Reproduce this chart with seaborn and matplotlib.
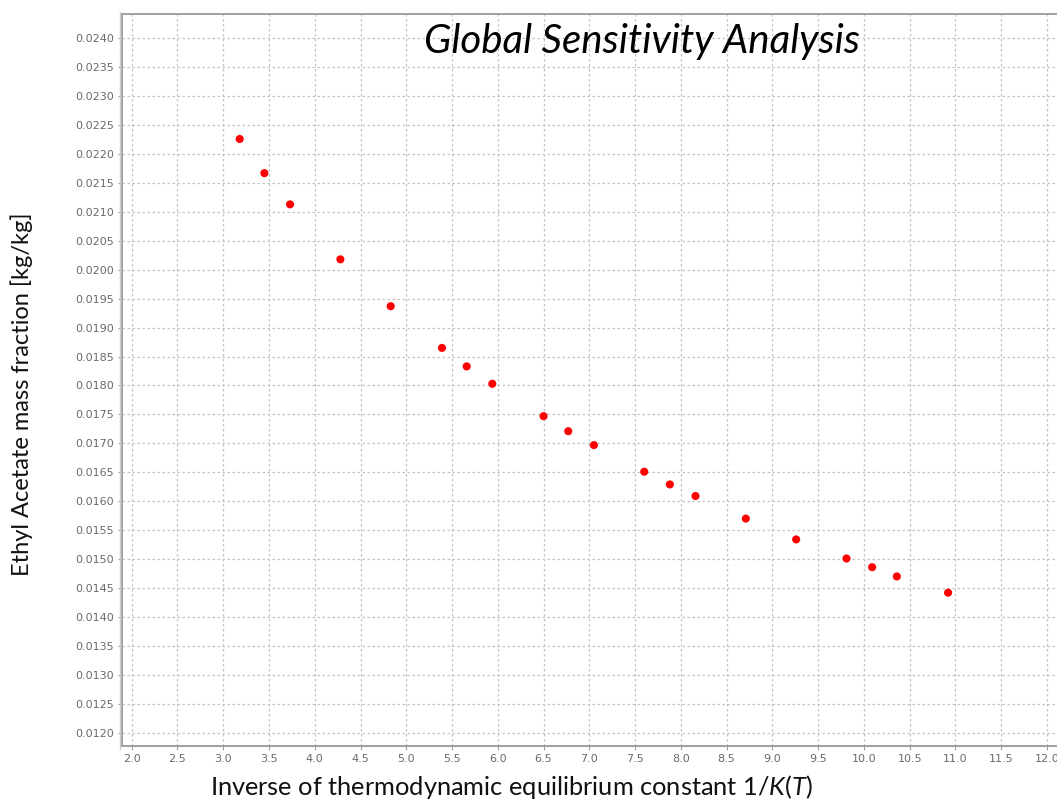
import numpy as np
import pandas as pd
import matplotlib
matplotlib.use("Agg")
import matplotlib.pyplot as plt
from matplotlib.ticker import MultipleLocator, FormatStrFormatter
import seaborn as sns

# Inverse equilibrium constant 1/K(T) and resulting ethyl acetate mass fraction
inv_k = [3.18, 3.45, 3.73, 4.28, 4.83, 5.39, 5.66, 5.94, 6.50, 6.77,
         7.05, 7.60, 7.88, 8.16, 8.71, 9.26, 9.81, 10.09, 10.36, 10.92]
mass_fraction = [0.02226, 0.02167, 0.02113, 0.02018, 0.01937, 0.01865,
                 0.01833, 0.01803, 0.01747, 0.01721, 0.01697, 0.01651,
                 0.01629, 0.01609, 0.01570, 0.01534, 0.01501, 0.01486,
                 0.01470, 0.01442]

df = pd.DataFrame({"inv_k": inv_k, "w_etac": mass_fraction})

sns.set_theme(style="white")
plt.rcParams["font.family"] = ["DejaVu Sans"]
plt.rcParams["mathtext.fontset"] = "custom"
plt.rcParams["mathtext.rm"] = "Lato"
plt.rcParams["mathtext.it"] = "Lato:italic"

fig = plt.figure(figsize=(10.57, 8.07), dpi=100)
ax = fig.add_axes([122 / 1057, 1 - 746 / 807, 1 - 122 / 1057, (746 - 14) / 807])

sns.scatterplot(data=df, x="inv_k", y="w_etac", ax=ax, color="#ff0000",
                s=34, edgecolor="none", zorder=3, legend=False)

ax.set_xlim(1.894, 12.11)
ax.set_ylim(0.01177, 0.02442)
ax.xaxis.set_major_locator(MultipleLocator(0.5))
ax.yaxis.set_major_locator(MultipleLocator(0.0005))
ax.xaxis.set_major_formatter(FormatStrFormatter("%.1f"))
ax.yaxis.set_major_formatter(FormatStrFormatter("%.4f"))

ax.grid(True, color="#c4c4c4", linestyle=(0, (2, 2)), linewidth=0.9)
ax.set_axisbelow(True)

for side in ["left", "bottom", "top"]:
    ax.spines[side].set_color("#a0a0a0")
    ax.spines[side].set_linewidth(1.4)
ax.spines["right"].set_visible(False)

ax.tick_params(axis="both", which="major", direction="out", length=3,
               width=0.8, color="#a0a0a0", labelsize=8, labelcolor="#6a6a6a",
               pad=3, left=True, bottom=True)

# outer frame line just left of the axis
fig.add_artist(plt.Line2D([119.5 / 1057, 119.5 / 1057], [1 - 749 / 807, 1 - 12 / 807],
                          color="#cfcfcf", linewidth=1.0))

ax.set_xlabel("")
ax.set_ylabel("")

label_font = ["Lato", "DejaVu Sans"]
fig.text(22 / 1057, 1 - 394 / 807, "Ethyl Acetate mass fraction [kg/kg]",
         rotation=90, ha="center", va="center", fontsize=17,
         family=label_font, color="#111111")
fig.text(511 / 1057, 1 - 787 / 807,
         r"Inverse of thermodynamic equilibrium constant 1/$\mathit{K(T)}$",
         ha="center", va="center", fontsize=18.3, family=label_font,
         color="#111111")

fig.text(642 / 1057, 1 - 41 / 807, "Global Sensitivity Analysis",
         ha="center", va="center", fontsize=29, style="italic",
         family=label_font, color="#000000")

fig.savefig("out.png", dpi=100)
